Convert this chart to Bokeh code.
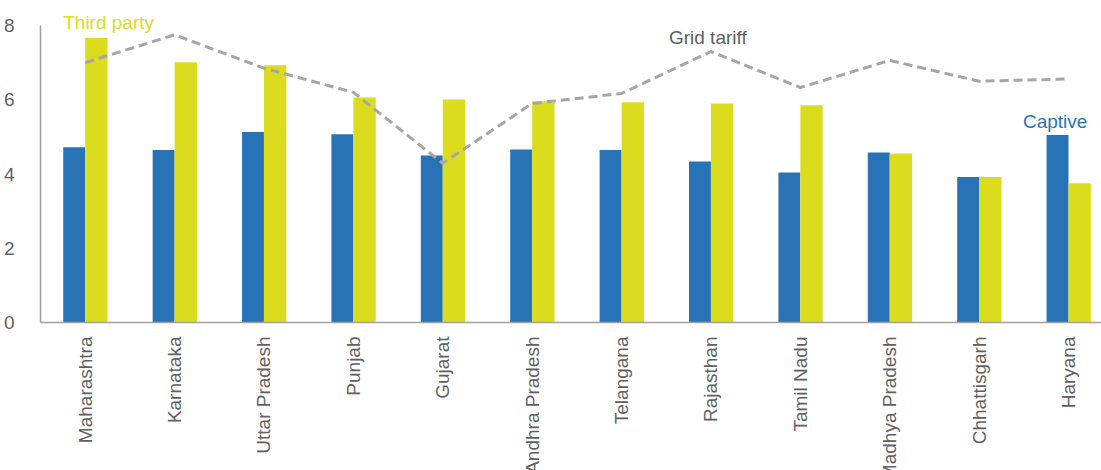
from bokeh.plotting import figure
from bokeh.models import Range1d, Label, FixedTicker
from bokeh.embed import file_html
from bokeh.resources import INLINE

states = ["Maharashtra", "Karnataka", "Uttar Pradesh", "Punjab", "Gujarat", "Andhra Pradesh",
          "Telangana", "Rajasthan", "Tamil Nadu", "Madhya Pradesh", "Chhattisgarh", "Haryana"]
captive = [4.72, 4.65, 5.13, 5.07, 4.50, 4.66, 4.65, 4.34, 4.04, 4.58, 3.92, 5.05]
third_party = [7.67, 7.01, 6.93, 6.06, 6.01, 5.96, 5.93, 5.90, 5.85, 4.55, 3.92, 3.75]
grid_tariff = [7.00, 7.75, 6.85, 6.20, 4.29, 5.90, 6.17, 7.30, 6.33, 7.06, 6.50, 6.56]
y_ticks = [0, 2, 4, 6, 8]

FONT = "Liberation Sans"
BLUE = "#2773B6"
YELLOW = "#DCDC1E"
GRAY_TXT = "#606060"

xs = list(range(len(states)))

p = figure(frame_width=1062, frame_height=322, min_border_left=39, min_border_right=0,
           min_border_top=0, min_border_bottom=148,
           x_range=Range1d(-0.5, 11.38), y_range=Range1d(0, 8.674),
           output_backend="svg", toolbar_location=None)

p.vbar(x=[x - 0.123 for x in xs], top=captive, width=0.245, fill_color=BLUE, line_color=None)
p.vbar(x=[x + 0.125 for x in xs], top=third_party, width=0.25, fill_color=YELLOW, line_color=None)
p.line(x=xs, y=grid_tariff, line_color="#A6A6A6", line_width=3, line_dash="9 5")

p.xgrid.visible = False
p.ygrid.visible = False
p.outline_line_color = None

yax = p.yaxis[0]
yax.ticker = FixedTicker(ticks=y_ticks)
yax.bounds = (0, 8)
yax.axis_line_color = "#A0A0A0"
yax.axis_line_width = 1.5
yax.major_tick_line_color = None
yax.minor_tick_line_color = None
yax.major_label_text_font = FONT
yax.major_label_text_font_size = "19px"
yax.major_label_text_color = GRAY_TXT
yax.major_label_standoff = 20

xax = p.xaxis[0]
xax.ticker = FixedTicker(ticks=xs)
xax.major_label_overrides = {i: s for i, s in enumerate(states)}
xax.major_label_orientation = 3.14159265 / 2
xax.axis_line_color = "#A0A0A0"
xax.axis_line_width = 1.5
xax.major_tick_line_color = None
xax.minor_tick_line_color = None
xax.major_label_text_font = FONT
xax.major_label_text_font_size = "19px"
xax.major_label_text_color = GRAY_TXT
xax.major_label_standoff = 8

for txt, x, y, c in [("Third party", -0.246, 8.09, YELLOW),
                     ("Grid tariff", 6.53, 7.69, GRAY_TXT),
                     ("Captive", 10.49, 5.42, BLUE)]:
    p.add_layout(Label(x=x, y=y, text=txt, text_color=c, text_font=FONT,
                       text_font_size="19px", text_baseline="alphabetic"))

open("out.html", "w").write(file_html(p, INLINE))
